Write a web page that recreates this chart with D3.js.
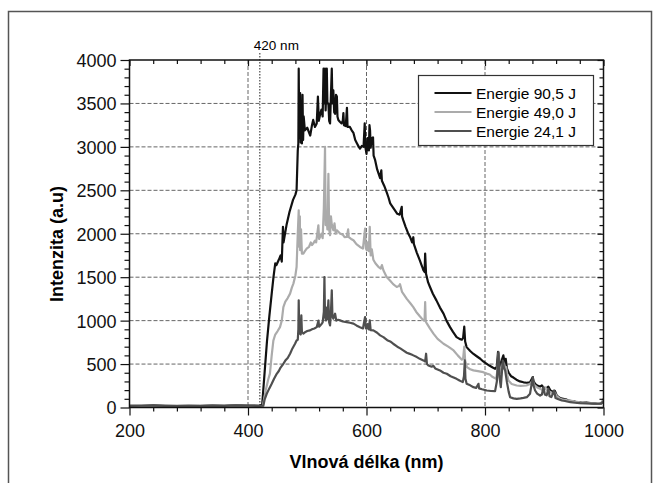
<!DOCTYPE html>
<html>
<head>
<meta charset="utf-8">
<script src="https://cdn.jsdelivr.net/npm/d3@7"></script>
<style>
  body { margin: 0; background: #fff; }
  svg { display: block; font-family: "Liberation Sans", Arial, sans-serif; }
</style>
</head>
<body>
<svg id="chart" width="660" height="483"></svg>
<script>
// [wavelength nm, intensity a.u.]
const energy90 = [
  [200,20],[220,18],[240,26],[260,20],[280,16],[300,20],[320,18],[340,22],[360,20],[380,28],[400,22],[420,20],[424,40],
  [428,400],[432,760],[436,1050],[440,1310],[443,1500],[446,1660],[448,1640],[452,1700],[455,1750],[457,1680],[459,2080],[460,1900],
  [465,2100],[470,2250],[476,2390],[480,2450],[482,2500],[484,2960],[485,3040],[485.6,3900],[486.5,3100],[488,3620],[489,3050],
  [490,3500],[491,3040],[492,3600],[493,3080],[494,3350],[496,3190],[500,3220],[505,3130],[508,3250],[510,3310],[513,3230],
  [516,3270],[518,3580],[519.5,3300],[522,3380],[524,3430],[526,3350],[527.5,3900],[528.5,3500],[530,3900],[531,3420],[533,3900],
  [534,3500],[535.7,3500],[537,3300],[538.5,3270],[540,3600],[541.4,3900],[542.5,3500],[544,3650],[545.5,3400],[547,3380],
  [548.5,3600],[550,3580],[551,3350],[552.5,3310],[555,3290],[558,3270],[560,3300],[561,3390],[562,3250],[565,3240],[567,3450],
  [568,3230],[572,3230],[575,3190],[578,3160],[581,3080],[584,3040],[587,3000],[589,2980],[592,3010],[595,3000],[597,3270],
  [598,3000],[600,2920],[602,3100],[604,2960],[605,3250],[606,3190],[607,2990],[609,3100],[611,3110],[612,2900],[614.5,2850],
  [618,2740],[623,2640],[625,2730],[626,2610],[630,2550],[634,2480],[637,2420],[640,2350],[644,2310],[648,2270],[652,2230],
  [656,2220],[659.5,2310],[660,2200],[662,2156],[666,2080],[670,2010],[673.5,1963],[677,1900],[679,1960],[680,1880],[685,1780],
  [690,1694],[694,1620],[696,1580],[698,1560],[699,1772],[700.5,1540],[704,1440],[707,1390],[712,1310],[718,1233],[724,1150],
  [730,1080],[735,1000],[741,925],[746,870],[752,810],[757,790],[761,780],[763,800],[765,930],[766.5,760],[769,695],[775,650],
  [780,619],[786,590],[792,561],[797,530],[803,503],[808,480],[813,460],[817,446],[820,470],[822,640],[823.5,570],[825,500],
  [827,470],[829,560],[831,600],[833,520],[835,560],[837,450],[840,400],[844,360],[848,345],[853,320],[859,300],[865,290],
  [870,285],[876,290],[880.7,350],[882,300],[885,270],[889,250],[893,240],[896,255],[899,225],[903,220],[907,240],[910,200],
  [915,180],[918,190],[921,140],[924,120],[928,105],[932,100],[938,90],[944,75],[950,70],[955,60],[960,60],[966,55],[972,58],
  [977,52],[983,48],[988,45],[994,43],[998,60],[1000,100]
];

const energy49 = [
  [200,15],[220,18],[240,20],[260,16],[280,15],[300,18],[320,15],[340,20],[360,18],[380,24],[400,18],[420,16],[425,20],
  [430,200],[434,320],[437,390],[440,600],[442.8,770],[446,840],[450,880],[454,925],[457,1000],[459.7,1156],[463,1220],
  [467,1260],[471,1311],[474,1380],[476.6,1426],[480,1520],[482,1617],[484,2000],[485.6,2270],[486.5,1850],[487.5,2200],
  [488,1810],[489.5,2050],[491,1770],[493.4,1772],[496,1800],[499,1829],[503,1850],[506,1900],[508,1870],[510,1887],[513,1920],
  [515,1900],[518.8,2098],[520,1940],[521.6,1963],[524,2000],[526,1950],[528,2300],[530,3000],[531,2100],[532.5,2200],[534,2050],
  [535.7,2690],[537,2050],[538.5,1983],[540,2200],[541.5,2100],[544,2040],[546,2120],[548,2000],[550,2040],[555.4,2002],
  [560,1990],[563,1960],[566.7,1963],[569,2050],[570,1960],[574,1940],[578,1925],[583,1880],[589,1848],[594,1830],[597.6,2059],
  [599,1830],[600.5,1810],[602,1900],[604,1800],[605.5,2080],[607,1750],[609,1820],[611.6,1700],[615,1660],[620,1620],[624,1600],
  [626,1640],[628.5,1580],[634,1502],[640,1460],[645,1420],[651,1387],[655,1400],[656.5,1420],[660,1330],[662,1311],[668,1250],
  [674,1200],[679,1156],[684,1100],[690,1050],[696,1003],[698,1000],[699,1214],[700,990],[702,965],[707,910],[713,850],[720,790],
  [730,734],[738,700],[747,657],[754,600],[761,550],[763,560],[765,700],[766.5,540],[769.5,465],[775,440],[780.5,427],[788,418],
  [797,407],[803,390],[808,380],[813,350],[818.8,330],[820.5,400],[822.7,619],[824.5,430],[826.5,400],[828.5,480],[831,522],
  [833,440],[835.7,465],[837.5,380],[839.5,311],[845,270],[853.5,253],[860,250],[870,253],[876,270],[880.7,311],[883,260],
  [887.5,234],[893,215],[898.7,196],[902,230],[905,200],[910,180],[915.5,158],[918,170],[921,130],[927,100],[932,90],[938,85],
  [944,81],[950,70],[960,60],[970,55],[980,50],[990,45],[996,45],[1000,80]
];

const energy24 = [
  [200,18],[220,20],[240,22],[260,18],[280,18],[300,20],[320,16],[340,22],[360,18],[380,25],[400,20],[420,18],[425.9,20],
  [428,90],[431.6,158],[436,220],[440,273],[444,330],[448.5,388],[452,420],[455,460],[459.7,503],[463,540],[467,570],[471,619],
  [475,680],[479.4,734],[482,772],[484,780],[485,900],[485.6,1233],[486.5,850],[488,925],[489,840],[490,1060],[491,870],
  [493.4,850],[497,870],[500,880],[504.7,888],[508,900],[512,910],[516,925],[519,1000],[520,930],[524.5,965],[526,980],
  [528,1100],[529,1502],[530,1050],[531.7,1003],[533,1150],[534,1020],[535.7,1233],[537,980],[538.5,945],[540,1100],
  [541.4,1349],[542.5,1050],[544,1022],[547,1080],[549,1000],[552,1010],[555.4,1003],[560,990],[566.7,983],[572,975],[578,965],
  [583,945],[589,925],[594,910],[597.6,1041],[599,910],[600.5,907],[602,960],[604,900],[605.5,1003],[607,890],[611.6,888],
  [618,860],[623,830],[628.5,810],[635,775],[640,760],[645,734],[652,700],[657,680],[662,657],[668,630],[672,620],[676,610],
  [679,600],[685,580],[690,560],[696,542],[699,530],[700.6,619],[702,500],[704.5,484],[710,470],[713,480],[716,450],[724,427],
  [730,400],[735.5,388],[742,360],[747,345],[752,330],[757,310],[762.5,292],[764.5,360],[765.9,542],[767,330],[769,273],
  [775,255],[780.5,234],[785,225],[789,273],[790,220],[795,210],[803,196],[810,190],[817,188],[820,300],[822.7,637],[824.5,350],
  [826.7,234],[828.5,400],[830,541],[832,460],[834,427],[837,292],[840,180],[842.4,119],[848,105],[853.7,100],[860,105],
  [865,110],[870.6,119],[876,158],[880.7,349],[882,250],[884.6,196],[888,160],[893,138],[896,150],[898.7,234],[901,150],
  [904,140],[907,215],[909,130],[912,120],[916.7,196],[919,110],[924,95],[929.7,81],[935,75],[944,61],[952,55],[960,50],
  [970,48],[980,45],[990,43],[996,43],[1000,70]
];

const seriesNames = ["Energie 90,5 J", "Energie 49,0 J", "Energie 24,1 J"];
const seriesColors = ["#111111", "#ababab", "#4f4f4f"];
const xMajor = [200, 400, 600, 800, 1000];
const yMajor = [0, 500, 1000, 1500, 2000, 2500, 3000, 3500, 4000];
const marker = 420;

const plotL = 129.5, plotR = 603.5, plotT = 60, plotB = 407.5;

const svg = d3.select('#chart');

// outer frame
svg.append('rect')
  .attr('x', 8.5).attr('y', 11.5)
  .attr('width', 643).attr('height', 500)
  .attr('fill', 'none')
  .attr('stroke', '#555')
  .attr('stroke-width', 1.5);

const x = d3.scaleLinear().domain([200, 1000]).range([plotL, plotR]);
const y = d3.scaleLinear().domain([0, 4000]).range([plotB, plotT]);

const xMinor = d3.range(200, 1001, 40).filter(v => v % 200 !== 0);
const yMinor = d3.range(0, 4001, 100).filter(v => v % 500 !== 0);

// grid
const grid = svg.append('g')
  .attr('stroke', '#666')
  .attr('stroke-width', 1)
  .attr('stroke-dasharray', '4,2');

grid.selectAll('line.h')
  .data(yMajor.slice(1, -1))
  .enter().append('line')
  .attr('x1', plotL).attr('x2', plotR)
  .attr('y1', d => y(d)).attr('y2', d => y(d));

grid.selectAll('line.v')
  .data(xMajor.slice(1, -1))
  .enter().append('line')
  .attr('x1', d => x(d)).attr('x2', d => x(d))
  .attr('y1', plotT).attr('y2', plotB);

// 420 nm marker
svg.append('line')
  .attr('x1', x(marker)).attr('x2', x(marker))
  .attr('y1', 53).attr('y2', plotB)
  .attr('stroke', '#222')
  .attr('stroke-width', 1)
  .attr('stroke-dasharray', '1.5,1.5');

svg.append('text')
  .attr('x', x(marker) - 6)
  .attr('y', 50)
  .attr('font-size', 13.5)
  .text(`${marker} nm`);

// series
svg.append('clipPath').attr('id', 'clip')
  .append('rect')
  .attr('x', plotL).attr('y', plotT)
  .attr('width', plotR - plotL).attr('height', plotB - plotT);

const line = d3.line()
  .x(d => x(d[0]))
  .y(d => y(d[1]));

const plot = svg.append('g').attr('clip-path', 'url(#clip)');

[energy90, energy49, energy24].forEach((s, i) => {
  plot.append('path')
    .datum(s)
    .attr('fill', 'none')
    .attr('stroke', seriesColors[i])
    .attr('stroke-width', 2.2)
    .attr('stroke-linejoin', 'round')
    .attr('d', line);
});

// axes
function tidy(g) {
  g.select('.domain').remove();
  g.selectAll('line').attr('stroke', '#111').attr('stroke-width', 1.2);
}

svg.append('g')
  .attr('transform', `translate(0,${plotB})`)
  .call(d3.axisBottom(x).tickValues(xMinor).tickSize(4).tickFormat(''))
  .call(tidy);

const xAxis = svg.append('g')
  .attr('transform', `translate(0,${plotB})`)
  .call(d3.axisBottom(x).tickValues(xMajor).tickSize(8).tickFormat(d3.format('d')))
  .call(tidy);
xAxis.selectAll('text')
  .attr('y', 29).attr('dy', 0)
  .attr('fill', '#111')
  .attr('font-size', 18)
  .attr('font-family', '"Liberation Sans", Arial, sans-serif');

svg.append('g')
  .attr('transform', `translate(0,${plotT})`)
  .call(d3.axisBottom(x).tickValues(xMinor).tickSize(4).tickFormat(''))
  .call(tidy);
svg.append('g')
  .attr('transform', `translate(0,${plotT})`)
  .call(d3.axisBottom(x).tickValues(xMajor).tickSize(6).tickFormat(''))
  .call(tidy);

svg.append('g')
  .attr('transform', `translate(${plotL},0)`)
  .call(d3.axisLeft(y).tickValues(yMinor).tickSize(5).tickFormat(''))
  .call(tidy);

const yAxis = svg.append('g')
  .attr('transform', `translate(${plotL},0)`)
  .call(d3.axisLeft(y).tickValues(yMajor).tickSize(9).tickFormat(d3.format('d')))
  .call(tidy);
yAxis.selectAll('text')
  .attr('x', -13).attr('dy', '0.36em')
  .attr('fill', '#111')
  .attr('font-size', 18)
  .attr('font-family', '"Liberation Sans", Arial, sans-serif');

svg.append('g')
  .attr('transform', `translate(${plotR},0)`)
  .call(d3.axisLeft(y).tickValues(yMinor).tickSize(4).tickFormat(''))
  .call(tidy);
svg.append('g')
  .attr('transform', `translate(${plotR},0)`)
  .call(d3.axisLeft(y).tickValues(yMajor).tickSize(6).tickFormat(''))
  .call(tidy);

// plot frame
svg.append('rect')
  .attr('x', plotL).attr('y', plotT)
  .attr('width', plotR - plotL).attr('height', plotB - plotT)
  .attr('fill', 'none')
  .attr('stroke', '#111')
  .attr('stroke-width', 1.5);

// axis titles
svg.append('text')
  .attr('x', (plotL + plotR) / 2)
  .attr('y', 468)
  .attr('text-anchor', 'middle')
  .attr('font-size', 18)
  .attr('font-weight', 'bold')
  .text('Vlnová délka (nm)');

svg.append('text')
  .attr('transform', 'translate(63,244) rotate(-90)')
  .attr('text-anchor', 'middle')
  .attr('font-size', 18)
  .attr('font-weight', 'bold')
  .text('Intenzita (a.u)');

// legend
const legend = svg.append('g').attr('transform', 'translate(418.5,75.5)');
legend.append('rect')
  .attr('width', 175).attr('height', 70)
  .attr('fill', '#fff')
  .attr('stroke', '#333')
  .attr('stroke-width', 1.2);

const item = legend.selectAll('g.item')
  .data(seriesNames)
  .enter().append('g')
  .attr('transform', (d, i) => `translate(0,${17.5 + i * 19})`);

item.append('line')
  .attr('x1', 16).attr('x2', 53)
  .attr('stroke', (d, i) => seriesColors[i])
  .attr('stroke-width', 2);

item.append('text')
  .attr('x', 57.5)
  .attr('dy', '0.36em')
  .attr('font-size', 15.5)
  .text(d => d);
</script>
</body>
</html>
